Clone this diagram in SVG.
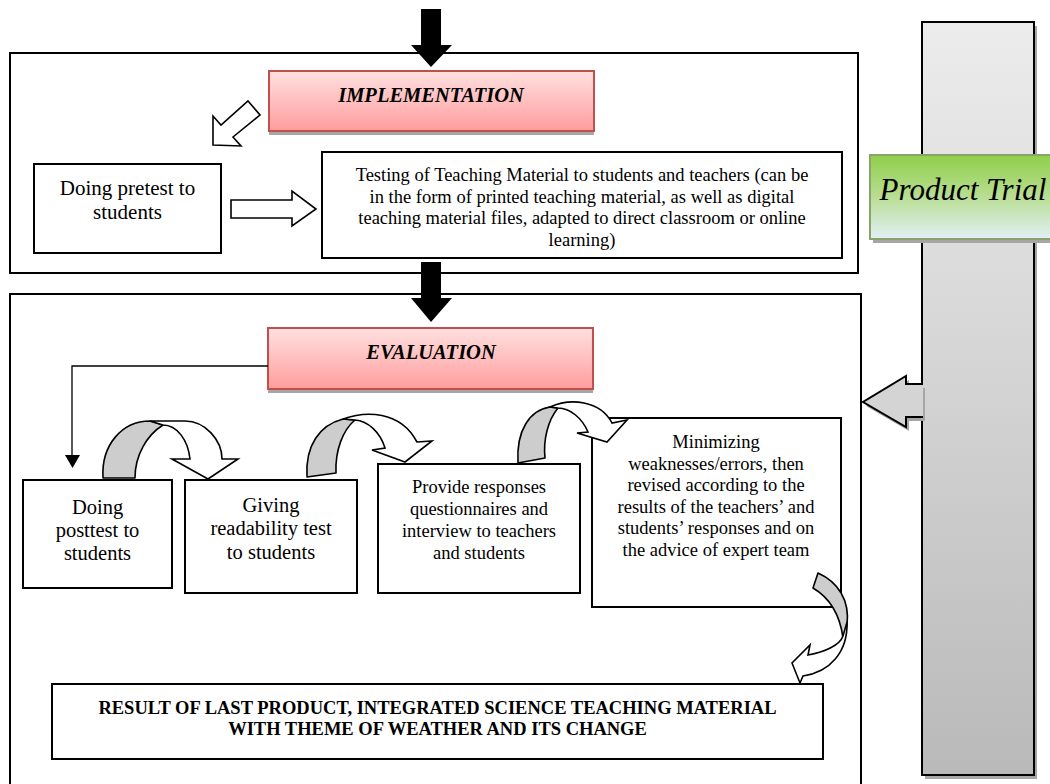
<svg xmlns="http://www.w3.org/2000/svg" width="1050" height="784" viewBox="0 0 1050 784">
<defs>
<linearGradient id="pink" x1="0" y1="0" x2="0" y2="1">
<stop offset="0" stop-color="#ffe0e0"/><stop offset="1" stop-color="#ff9d9d"/>
</linearGradient>
<linearGradient id="green" x1="0" y1="0" x2="0" y2="1">
<stop offset="0" stop-color="#8fcf4c"/><stop offset="0.45" stop-color="#b5dc8a"/><stop offset="1" stop-color="#e2f0f6"/>
</linearGradient>
<linearGradient id="gray" x1="0" y1="0" x2="0" y2="1">
<stop offset="0" stop-color="#ececec"/><stop offset="1" stop-color="#b9b9b9"/>
</linearGradient>
<style>
.frame{fill:none;stroke:#000;stroke-width:2}
.box{fill:#fff;stroke:#000;stroke-width:2}
.hdr{fill:url(#pink);stroke:#c0504d;stroke-width:2}
.shadow{fill:#a6a6a6}
text{font-family:"Liberation Serif","Times New Roman",serif;fill:#000}
.t{text-anchor:middle}
.hdrt{font-weight:bold;font-style:italic;font-size:20.5px;text-anchor:middle}
.hollow{fill:#fff;stroke:#000;stroke-width:1.6;stroke-linejoin:miter}
.curvg{fill:#cdcdcd;stroke:#000;stroke-width:1.6;stroke-linejoin:round}
.curvw{fill:#fff;stroke:#000;stroke-width:1.6;stroke-linejoin:miter}
.line{fill:none;stroke:#000;stroke-width:1.3}
</style>
</defs>

<g id="product-trial">
<rect x="925" y="26" width="112" height="753" class="shadow"/>
<rect x="922" y="22" width="112" height="753" fill="url(#gray)" stroke="#000" stroke-width="2"/>
<polygon points="866,406 909,380 909,388 925,388 925,421 909,421 909,431" fill="#a6a6a6"/>
<polygon points="863,402 906,376 906,384 923,384 923,417 906,417 906,427" fill="#d4d4d4"/>
<polyline points="923,384 906,384 906,376 863,402 906,427 906,417 923,417" fill="none" stroke="#000" stroke-width="2"/>
<rect x="873" y="159" width="190" height="84" class="shadow"/>
<rect x="870" y="155" width="190" height="84" fill="url(#green)" stroke="#8aa36a" stroke-width="2"/>
<text x="963" y="200" font-style="italic" font-size="31" text-anchor="middle">Product Trial</text>
</g>

<g id="implementation-frame">
<rect x="10" y="53" width="848" height="220" class="frame"/>
</g>

<g id="implementation">
<rect x="269" y="75" width="325" height="60" class="shadow"/>
<rect x="269" y="71" width="325" height="60" class="hdr"/>
<text x="431" y="102" class="hdrt">IMPLEMENTATION</text>
</g>

<g id="pretest">
<rect x="34" y="164" width="187" height="89" class="box"/>
<text class="t" font-size="21" x="127.5" y="195">Doing pretest to</text>
<text class="t" font-size="21" x="127.5" y="219">students</text>
</g>

<g id="testing">
<rect x="322" y="152" width="520" height="106" class="box"/>
<text class="t" font-size="18.5" x="582" y="181">Testing of Teaching Material to students and teachers (can be</text>
<text class="t" font-size="18.5" x="582" y="202.5">in the form of printed teaching material, as well as digital</text>
<text class="t" font-size="18.5" x="582" y="224">teaching material files, adapted to direct classroom or online</text>
<text class="t" font-size="18.5" x="582" y="245.5">learning)</text>
</g>

<g id="evaluation-frame">
<rect x="10" y="294" width="851" height="500" class="frame"/>
</g>

<g id="evaluation">
<rect x="268" y="332" width="325" height="61" class="shadow"/>
<rect x="268" y="328" width="325" height="61" class="hdr"/>
<text x="431" y="359" class="hdrt">EVALUATION</text>
</g>

<g id="posttest">
<rect x="23" y="480" width="149" height="108" class="box"/>
<text class="t" font-size="20.5" x="97.5" y="514">Doing</text>
<text class="t" font-size="20.5" x="97.5" y="537">posttest to</text>
<text class="t" font-size="20.5" x="97.5" y="560">students</text>
</g>

<g id="readability">
<rect x="185" y="480" width="172" height="113" class="box"/>
<text class="t" font-size="20.5" x="271" y="512">Giving</text>
<text class="t" font-size="20.5" x="271" y="535">readability test</text>
<text class="t" font-size="20.5" x="271" y="559">to students</text>
</g>

<g id="responses">
<rect x="378" y="464" width="202" height="129" class="box"/>
<text class="t" font-size="18.5" x="479" y="493">Provide responses</text>
<text class="t" font-size="18.5" x="479" y="515">questionnaires and</text>
<text class="t" font-size="18.5" x="479" y="537">interview to teachers</text>
<text class="t" font-size="18.5" x="479" y="559">and students</text>
</g>

<g id="minimizing">
<rect x="592" y="418" width="249" height="189" class="box"/>
<text class="t" font-size="18.5" x="716" y="448">Minimizing</text>
<text class="t" font-size="18.5" x="716" y="469.5">weaknesses/errors, then</text>
<text class="t" font-size="18.5" x="716" y="491">revised according to the</text>
<text class="t" font-size="18.5" x="716" y="512.5">results of the teachers’ and</text>
<text class="t" font-size="18.5" x="716" y="534">students’ responses and on</text>
<text class="t" font-size="18.5" x="716" y="555.5">the advice of expert team</text>
</g>

<g id="result">
<rect x="52" y="684" width="771" height="75" class="box"/>
<text class="t" font-size="18.5" font-weight="bold" x="437.5" y="714">RESULT OF LAST PRODUCT, INTEGRATED SCIENCE TEACHING MATERIAL</text>
<text class="t" font-size="18.5" font-weight="bold" x="437.5" y="735">WITH THEME OF WEATHER AND ITS CHANGE</text>
</g>

<g id="connectors">
<polygon points="421,9 441,9 441,45 452,45 431,67 411,45 421,45" fill="#000"/>
<polygon points="421,262 441,262 441,298 452,298 431,322 411,298 421,298" fill="#000"/>
<polygon points="248,101 260,115 233,137 241,146 213,145 213,116 221,125" class="hollow"/>
<polygon points="231,200 292,200 292,191 316,209 292,226 292,218 231,218" class="hollow"/>
<path d="M268,366 H72 V456" class="line"/>
<polygon points="65,455 80,455 72.5,468" fill="#000"/>
<path d="M103,478 C101,445 122,421 150,421 L163,425 C147,435 135,455 135,478 Z" class="curvg"/>
<path d="M150,421 L185,421 C205,421 222,440 222,459 L238,459 L208,479 L172,459 L190,459 C188,440 177,425 163,425 Z" class="curvw"/>
<path d="M307,477 C305,445 320,425 343,419 L355,420 C343,430 335,450 336,473 Z" class="curvg"/>
<path d="M343,419 C365,411 400,410 417,442 L432,441 L405,462 L372,450 L385,448 C380,432 368,421 355,420 Z" class="curvw"/>
<path d="M518,463 C516,430 530,410 550,407 L558,408 C548,420 543,440 545,458 Z" class="curvg"/>
<path d="M550,407 C570,398 600,400 612,423 L627,420 L607,442 L577,433 L588,432 C582,418 570,408 558,408 Z" class="curvw"/>
<path d="M813,588 L818,573 C838,582 850,600 847,625 L843,638 C840,615 830,598 813,588 Z" class="curvg"/>
<path d="M847,622 C848,652 830,672 803,676 L800,683 L792,663 L810,645 L808,655 C825,652 840,645 843,636 Z" class="curvw"/>
</g>
</svg>
